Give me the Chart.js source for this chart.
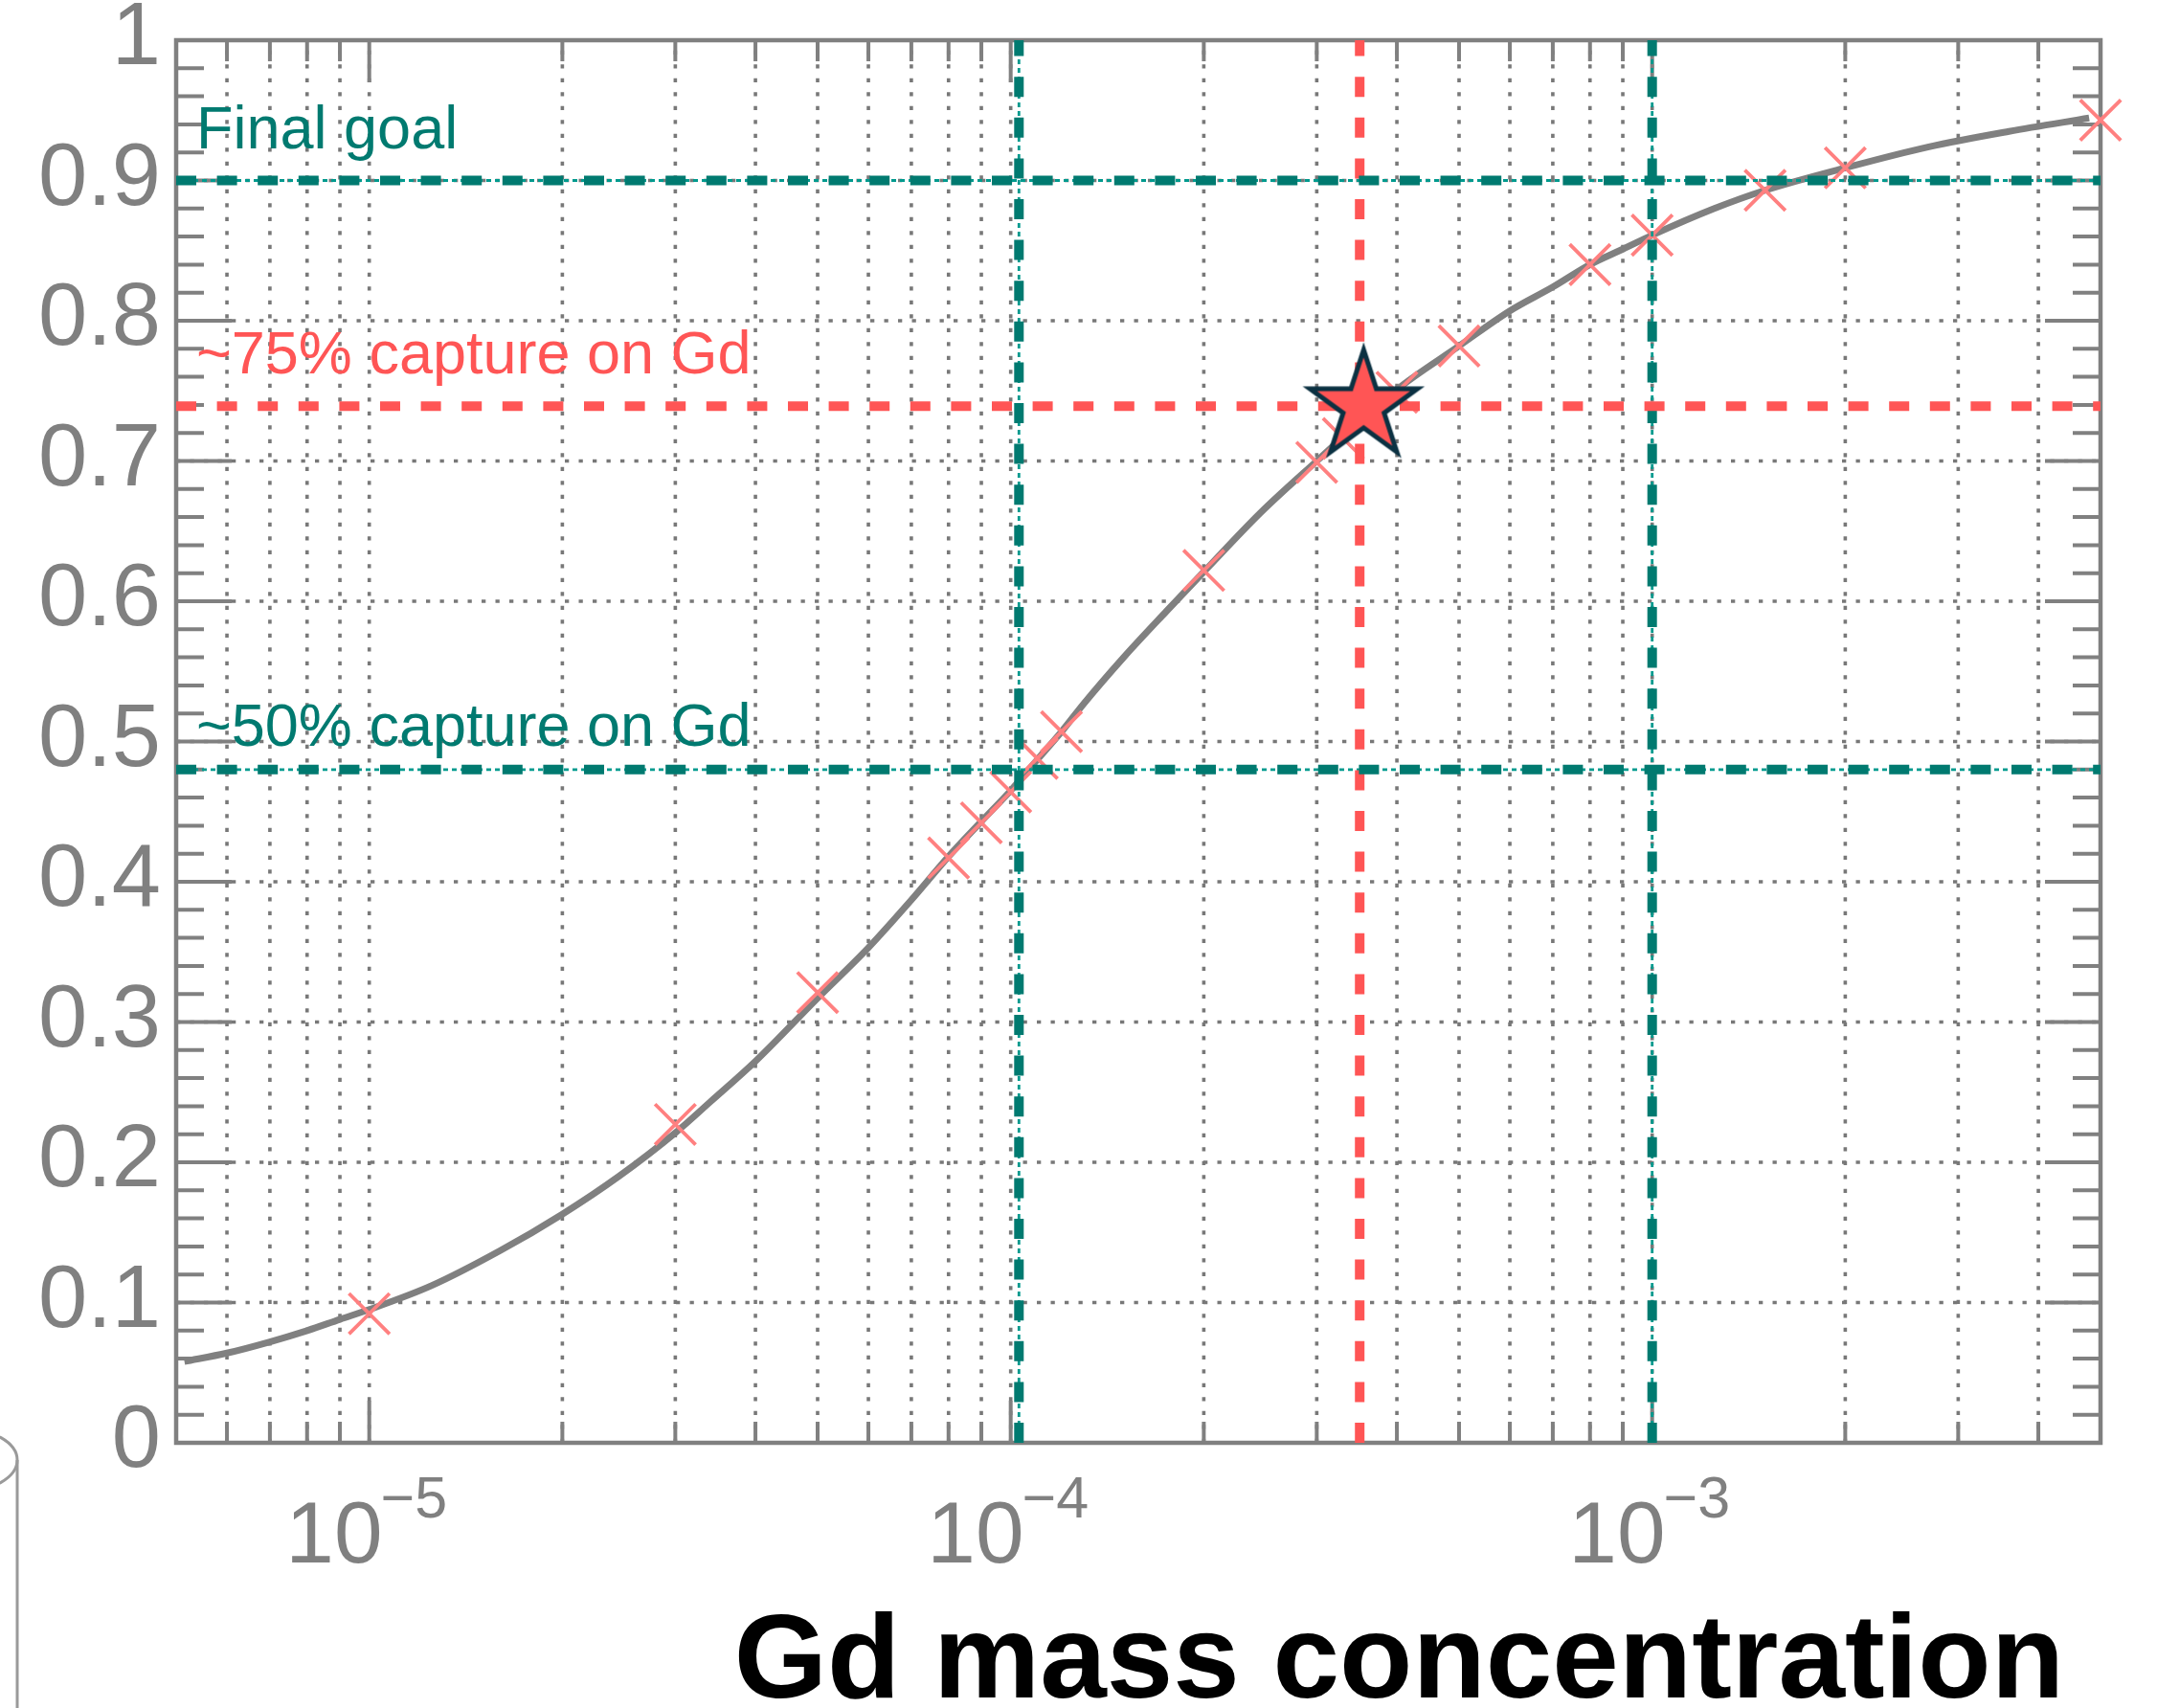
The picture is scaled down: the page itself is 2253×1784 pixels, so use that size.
<!DOCTYPE html>
<html><head><meta charset="utf-8">
<script src="https://cdn.jsdelivr.net/npm/chart.js@4"></script>
<style>html,body{margin:0;padding:0;background:#fff;} #c{display:block;}</style>
</head><body>
<canvas id="c" width="2253" height="1784"></canvas>
<script>
// ---------------- data ----------------
const xRange = [5e-6, 5e-3];
const yRange = [0, 1];

const markerX = [1e-5, 3e-5, 5e-5, 8e-5, 9e-5, 1e-4, 1.1e-4, 1.2e-4, 2e-4, 3e-4, 3.3e-4, 4e-4, 5e-4, 8e-4, 1e-3, 1.5e-3, 2e-3, 5e-3];
const markerY = [0.092, 0.227, 0.321, 0.417, 0.442, 0.464, 0.488, 0.507, 0.622, 0.699, 0.716, 0.749, 0.782, 0.840, 0.861, 0.893, 0.909, 0.943];

const curveX = [5.15e-6, 6e-6, 7e-6, 8e-6, 9e-6, 1e-5, 1.25e-5, 1.6e-5, 2e-5, 2.45e-5, 3e-5, 3.4e-5, 4e-5, 5e-5, 6e-5, 7e-5, 8e-5, 9e-5, 1e-4, 1.1e-4, 1.2e-4, 1.3e-4, 1.5e-4, 1.75e-4, 2e-4, 2.45e-4, 3e-4, 4e-4, 5e-4, 6e-4, 7e-4, 8e-4, 9e-4, 1e-3, 1.25e-3, 1.5e-3, 2e-3, 2.7e-3, 3.6e-3, 4.8e-3];
const curveY = [0.058, 0.064, 0.072, 0.080, 0.088, 0.095, 0.112, 0.137, 0.163, 0.190, 0.221, 0.243, 0.272, 0.317, 0.353, 0.387, 0.418, 0.443, 0.465, 0.487, 0.507, 0.527, 0.560, 0.593, 0.621, 0.663, 0.700, 0.751, 0.782, 0.807, 0.824, 0.840, 0.851, 0.861, 0.880, 0.893, 0.909, 0.924, 0.935, 0.9445];

const starX = [3.55e-4];
const starY = [0.739];

// reference lines: [final goal, ~75%, ~50%]
const hLineY = [0.9, 0.739, 0.48];
const vLineX = [1e-3, 3.5e-4, 1.03e-4];

const annotationTexts = ['Final goal', '~75% capture on Gd', '~50% capture on Gd'];
const annotationY = [0.923, 0.7625, 0.497];

const yTickValues = [0, 0.1, 0.2, 0.3, 0.4, 0.5, 0.6, 0.7, 0.8, 0.9, 1];
const yTickLabels = ['0', '0.1', '0.2', '0.3', '0.4', '0.5', '0.6', '0.7', '0.8', '0.9', '1'];
const yMinorStep = 0.02;

const xTickValues = [1e-5, 1e-4, 1e-3];
const xTickBase = ['10', '10', '10'];
const xTickExp = ['\u22125', '\u22124', '\u22123'];
const xDecades = [1e-6, 1e-5, 1e-4, 1e-3];
const xMultipliers = [1, 2, 3, 4, 5, 6, 7, 8, 9];

const xTitle = 'Gd mass concentration';

// ---------------- styles ----------------
const GRAY = '#808080';
const GRID = '#787878';
const TEAL = '#007A70';
const TEAL_THIN = '#009a8e';
const RED = '#FF5555';
const MARK = '#FF8080';
const FONT = '"Liberation Sans", Arial, Helvetica, sans-serif';

const xGrid = [];
xDecades.forEach(d => xMultipliers.forEach(m => {
  const v = d * m;
  if (v > xRange[0] * 1.0001 && v < xRange[1] * 0.9999) xGrid.push(v);
}));

function makeStar(R, ratio, lw) {
  const size = Math.ceil(2 * (R + lw * 3));
  const c = document.createElement('canvas');
  c.width = size; c.height = size;
  const g = c.getContext('2d');
  const cx = size / 2, cy = size / 2;
  g.beginPath();
  for (let i = 0; i < 10; i++) {
    const r = i % 2 ? R * ratio : R;
    const ang = -Math.PI / 2 + i * Math.PI / 5;
    g.lineTo(cx + r * Math.cos(ang), cy + r * Math.sin(ang));
  }
  g.closePath();
  g.fillStyle = RED; g.fill();
  g.lineWidth = lw; g.lineJoin = 'miter'; g.miterLimit = 10;
  g.strokeStyle = '#0B3142'; g.stroke();
  return c;
}
const starImg = makeStar(59, 0.382, 5);

function pts(xs, ys) { return xs.map((v, i) => ({x: v, y: ys[i]})); }

const datasets = [];
// curve
datasets.push({data: pts(curveX, curveY), showLine: true, borderColor: GRAY, borderWidth: 7,
  pointRadius: 0, cubicInterpolationMode: 'monotone', order: 10, clip: false});
// markers
datasets.push({data: pts(markerX, markerY), showLine: false, pointStyle: 'crossRot', pointRadius: 30,
  borderColor: MARK, borderWidth: 3.8, pointBorderColor: MARK, order: 8, clip: false});
// reference lines
const hColors = [TEAL, RED, TEAL];
hLineY.forEach((v, i) => {
  datasets.push({data: [{x: xRange[0], y: v}, {x: xRange[1], y: v}], showLine: true, borderColor: hColors[i],
    borderWidth: 10, borderDash: [21, 21.6], pointRadius: 0, order: 5, clip: false});
  if (hColors[i] === TEAL) {
    datasets.push({data: [{x: xRange[0], y: v}, {x: xRange[1], y: v}], showLine: true, borderColor: TEAL_THIN,
      borderWidth: 2.8, borderDash: [5, 4], pointRadius: 0, order: 6, clip: false});
  }
});
const vColors = [TEAL, RED, TEAL];
vLineX.forEach((v, i) => {
  datasets.push({data: [{x: v, y: yRange[0]}, {x: v, y: yRange[1]}], showLine: true, borderColor: vColors[i],
    borderWidth: 10, borderDash: [21, 21.6], pointRadius: 0, order: 5, clip: false});
  if (vColors[i] === TEAL) {
    datasets.push({data: [{x: v, y: yRange[0]}, {x: v, y: yRange[1]}], showLine: true, borderColor: TEAL_THIN,
      borderWidth: 2.8, borderDash: [5, 4], pointRadius: 0, order: 6, clip: false});
  }
});
// star
datasets.push({data: pts(starX, starY), showLine: false, pointStyle: starImg, pointRadius: 20, order: 1, clip: false});

const framePlugin = {
  id: 'framePlugin',
  beforeDatasetsDraw(chart) {
    const {ctx, chartArea: a} = chart;
    const x = chart.scales.x, y = chart.scales.y;
    ctx.save();
    // dotted grid
    ctx.strokeStyle = GRID; ctx.lineWidth = 3.6; ctx.setLineDash([4.3, 10.2]);
    xGrid.forEach(v => {
      const px = x.getPixelForValue(v);
      ctx.beginPath(); ctx.moveTo(px, a.bottom); ctx.lineTo(px, a.top); ctx.stroke();
    });
    yTickValues.forEach(v => {
      if (v <= yRange[0] || v >= yRange[1]) return;
      const py = y.getPixelForValue(v);
      ctx.beginPath(); ctx.moveTo(a.left, py); ctx.lineTo(a.right, py); ctx.stroke();
    });
    ctx.setLineDash([]);
    // ticks
    ctx.strokeStyle = GRAY; ctx.lineWidth = 4;
    xGrid.forEach(v => {
      const px = x.getPixelForValue(v);
      const major = xTickValues.some(t => Math.abs(t - v) / t < 1e-6);
      const len = major ? 44 : 22;
      ctx.beginPath();
      ctx.moveTo(px, a.bottom); ctx.lineTo(px, a.bottom - len);
      ctx.moveTo(px, a.top); ctx.lineTo(px, a.top + len);
      ctx.stroke();
    });
    const nMinor = Math.round((yRange[1] - yRange[0]) / yMinorStep);
    for (let k = 1; k < nMinor; k++) {
      const v = yRange[0] + k * yMinorStep;
      const py = y.getPixelForValue(v);
      const len = (k % 5 === 0) ? 58 : 29;
      ctx.beginPath();
      ctx.moveTo(a.left, py); ctx.lineTo(a.left + len, py);
      ctx.moveTo(a.right, py); ctx.lineTo(a.right - len, py);
      ctx.stroke();
    }
    // frame
    ctx.lineWidth = 4.5;
    ctx.strokeRect(a.left, a.top, a.right - a.left, a.bottom - a.top);
    ctx.restore();
  },
  afterDatasetsDraw(chart) {
    const {ctx, chartArea: a} = chart;
    const x = chart.scales.x, y = chart.scales.y;
    ctx.save();
    // annotations
    const annColors = [TEAL, RED, TEAL];
    ctx.font = '63px ' + FONT; ctx.textAlign = 'left'; ctx.textBaseline = 'alphabetic';
    annotationTexts.forEach((t, i) => {
      ctx.fillStyle = annColors[i];
      ctx.fillText(t, a.left + 21, y.getPixelForValue(annotationY[i]));
    });
    // x tick labels with exponent
    const baseFont = '91px ' + FONT, expFont = '61px ' + FONT;
    ctx.fillStyle = GRAY;
    xTickValues.forEach((v, i) => {
      const px = x.getPixelForValue(v);
      ctx.font = baseFont; const wb = ctx.measureText(xTickBase[i]).width;
      ctx.font = expFont; const we = ctx.measureText(xTickExp[i]).width;
      const left = px - (wb + we) / 2 - 2;
      ctx.font = baseFont; ctx.fillText(xTickBase[i], left, a.bottom + 125);
      ctx.font = expFont; ctx.fillText(xTickExp[i], left + wb - 2, a.bottom + 78);
    });
    // axis title
    ctx.fillStyle = '#000';
    ctx.font = 'bold 125px ' + FONT; ctx.textAlign = 'right';
    ctx.fillText(xTitle, a.right - 38, a.bottom + 266);
    // cropped decoration at lower-left edge
    ctx.strokeStyle = '#9a9a9a'; ctx.lineWidth = 3;
    ctx.beginPath(); ctx.ellipse(-40, 1525, 58, 33, 0, -Math.PI / 2, Math.PI / 2); ctx.stroke();
    ctx.beginPath(); ctx.moveTo(18, 1525); ctx.lineTo(18, 1784); ctx.stroke();
    ctx.restore();
  }
};

new Chart(document.getElementById('c'), {
  type: 'scatter',
  data: {datasets},
  options: {
    responsive: false,
    devicePixelRatio: 1,
    animation: false,
    events: [],
    layout: {padding: {top: 42, right: 59, left: 0, bottom: 0}},
    plugins: {legend: {display: false}, tooltip: {enabled: false}},
    scales: {
      x: {
        type: 'logarithmic', min: xRange[0], max: xRange[1],
        grid: {display: false}, border: {display: false},
        ticks: {display: false},
        afterFit(s) { s.height = 277; s.paddingLeft = 0; s.paddingRight = 0; }
      },
      y: {
        type: 'linear', min: yRange[0], max: yRange[1],
        grid: {display: false, drawTicks: false}, border: {display: false},
        afterBuildTicks(s) { s.ticks = yTickValues.map(v => ({value: v})); },
        ticks: {
          color: GRAY, padding: 16,
          font: {family: FONT, size: 92, lineHeight: 0.8},
          callback: (v, i) => yTickLabels[i]
        },
        afterFit(s) { s.width = 184; s.paddingTop = 0; s.paddingBottom = 0; }
      }
    }
  },
  plugins: [framePlugin]
});
</script>
</body></html>
